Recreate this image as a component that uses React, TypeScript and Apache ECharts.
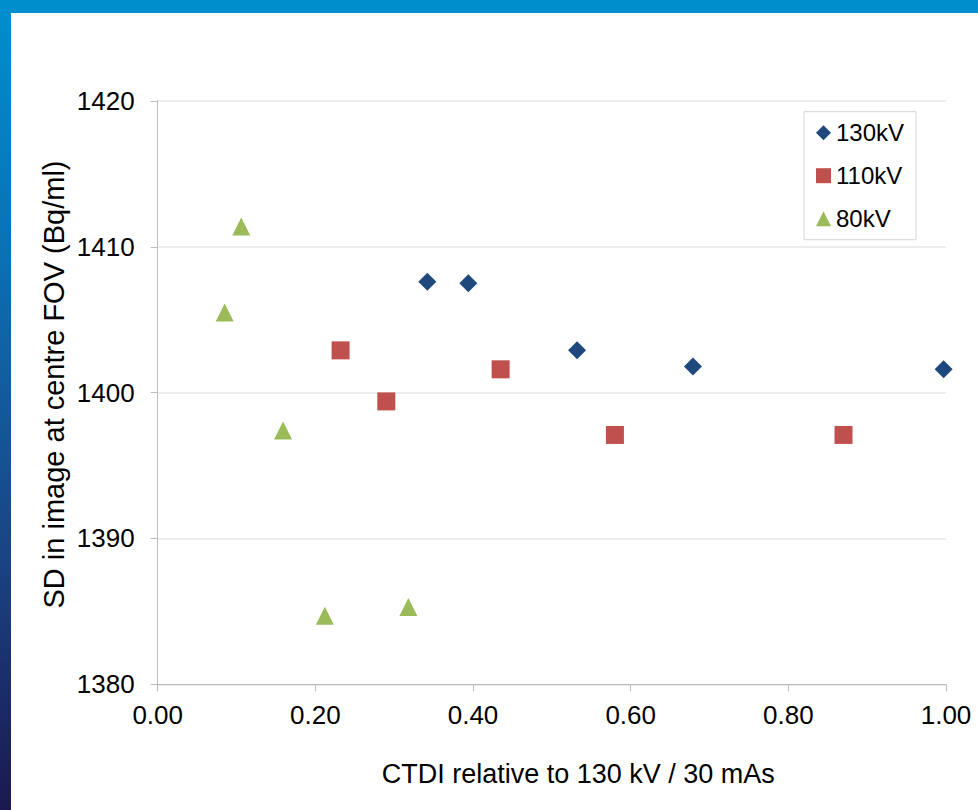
import React, { useEffect, useRef } from "react";
import * as echarts from "echarts";

// Data
const kv130X = [0.342, 0.394, 0.532, 0.679, 0.997];
const kv130Y = [1407.6, 1407.5, 1402.9, 1401.8, 1401.6];
const kv110X = [0.232, 0.29, 0.435, 0.58, 0.87];
const kv110Y = [1402.9, 1399.4, 1401.6, 1397.1, 1397.1];
const kv80X = [0.085, 0.106, 0.159, 0.212, 0.318];
const kv80Y = [1405.5, 1411.4, 1397.4, 1384.7, 1385.3];

const seriesNames = ["130kV", "110kV", "80kV"];
const xTitle = "CTDI relative to 130 kV / 30 mAs";
const yTitle = "SD in image at centre FOV (Bq/ml)";

const FONT = "'Liberation Sans', Arial, Helvetica, sans-serif";

function pairs(xs: number[], ys: number[]) {
  return xs.map((x, i) => [x, ys[i]]);
}

export default function App() {
  const ref = useRef<HTMLDivElement>(null);

  useEffect(() => {
    document.body.style.margin = "0";
    if (!ref.current) return;
    const chart = echarts.init(ref.current, null, { renderer: "svg" });
    chart.setOption({
      animation: false,
      backgroundColor: "#ffffff",
      textStyle: { fontFamily: FONT },
      grid: { left: 157.7, right: 32, top: 101, bottom: 125.7, containLabel: false },
      xAxis: {
        type: "value",
        min: 0,
        max: 1,
        interval: 0.2,
        axisLine: { show: true, lineStyle: { color: "#bcbcbc", width: 1 } },
        axisTick: { show: true, inside: false, length: 7, lineStyle: { color: "#bcbcbc" } },
        splitLine: { show: false },
        axisLabel: {
          margin: 18,
          fontSize: 26,
          color: "#000",
          fontFamily: FONT,
          formatter: (v: number) => v.toFixed(2),
        },
      },
      yAxis: {
        type: "value",
        min: 1380,
        max: 1420,
        interval: 10,
        axisLine: { show: true, lineStyle: { color: "#bcbcbc", width: 1 } },
        axisTick: { show: true, inside: false, length: 7, lineStyle: { color: "#bcbcbc" } },
        splitLine: { show: true, lineStyle: { color: "#ececec", width: 2 } },
        axisLabel: {
          margin: 23,
          fontSize: 26,
          color: "#000",
          fontFamily: FONT,
          formatter: (v: number) => String(Math.round(v)),
        },
      },
      legend: {
        orient: "vertical",
        left: 804,
        top: 111.7,
        padding: [9, 12, 9, 12],
        itemGap: 19,
        itemWidth: 15,
        itemHeight: 15,
        borderColor: "#d6d6d6",
        borderWidth: 1,
        textStyle: { fontSize: 24, color: "#000", fontFamily: FONT },
        data: seriesNames,
      },
      graphic: [
        {
          type: "rect",
          shape: { x: 0, y: 0, width: 978, height: 13 },
          style: { fill: "#008fcc" },
          silent: true,
        },
        {
          type: "rect",
          shape: { x: 0, y: 0, width: 11, height: 810 },
          style: {
            fill: new echarts.graphic.LinearGradient(0, 0, 0, 1, [
              { offset: 0, color: "#008fcd" },
              { offset: 0.3, color: "#0a72b6" },
              { offset: 0.7, color: "#1a4282" },
              { offset: 1, color: "#1b1850" },
            ]),
          },
          silent: true,
        },
        {
          type: "text",
          x: 578.3,
          y: 773.6,
          style: {
            text: xTitle,
            x: 0,
            y: 0,
            align: "center",
            verticalAlign: "middle",
            fontSize: 27,
            fontFamily: FONT,
            fill: "#000",
          },
        },
        {
          type: "text",
          x: 54,
          y: 384.5,
          rotation: Math.PI / 2,
          style: {
            text: yTitle,
            x: 0,
            y: 0,
            align: "center",
            verticalAlign: "middle",
            fontSize: 29,
            fontFamily: FONT,
            fill: "#000",
          },
        },
      ],
      series: [
        {
          name: seriesNames[0],
          type: "scatter",
          symbol: "diamond",
          symbolSize: 18,
          itemStyle: { color: "#1f497d", opacity: 1 },
          data: pairs(kv130X, kv130Y),
          z: 3,
        },
        {
          name: seriesNames[1],
          type: "scatter",
          symbol: "rect",
          symbolSize: 18,
          itemStyle: { color: "#c0504d", opacity: 1 },
          data: pairs(kv110X, kv110Y),
          z: 3,
        },
        {
          name: seriesNames[2],
          type: "scatter",
          symbol: "triangle",
          symbolSize: 18,
          itemStyle: { color: "#9bbb59", opacity: 1 },
          data: pairs(kv80X, kv80Y),
          z: 3,
        },
      ],
    });
    return () => chart.dispose();
  }, []);

  return <div ref={ref} style={{ width: 978, height: 810 }} />;
}
